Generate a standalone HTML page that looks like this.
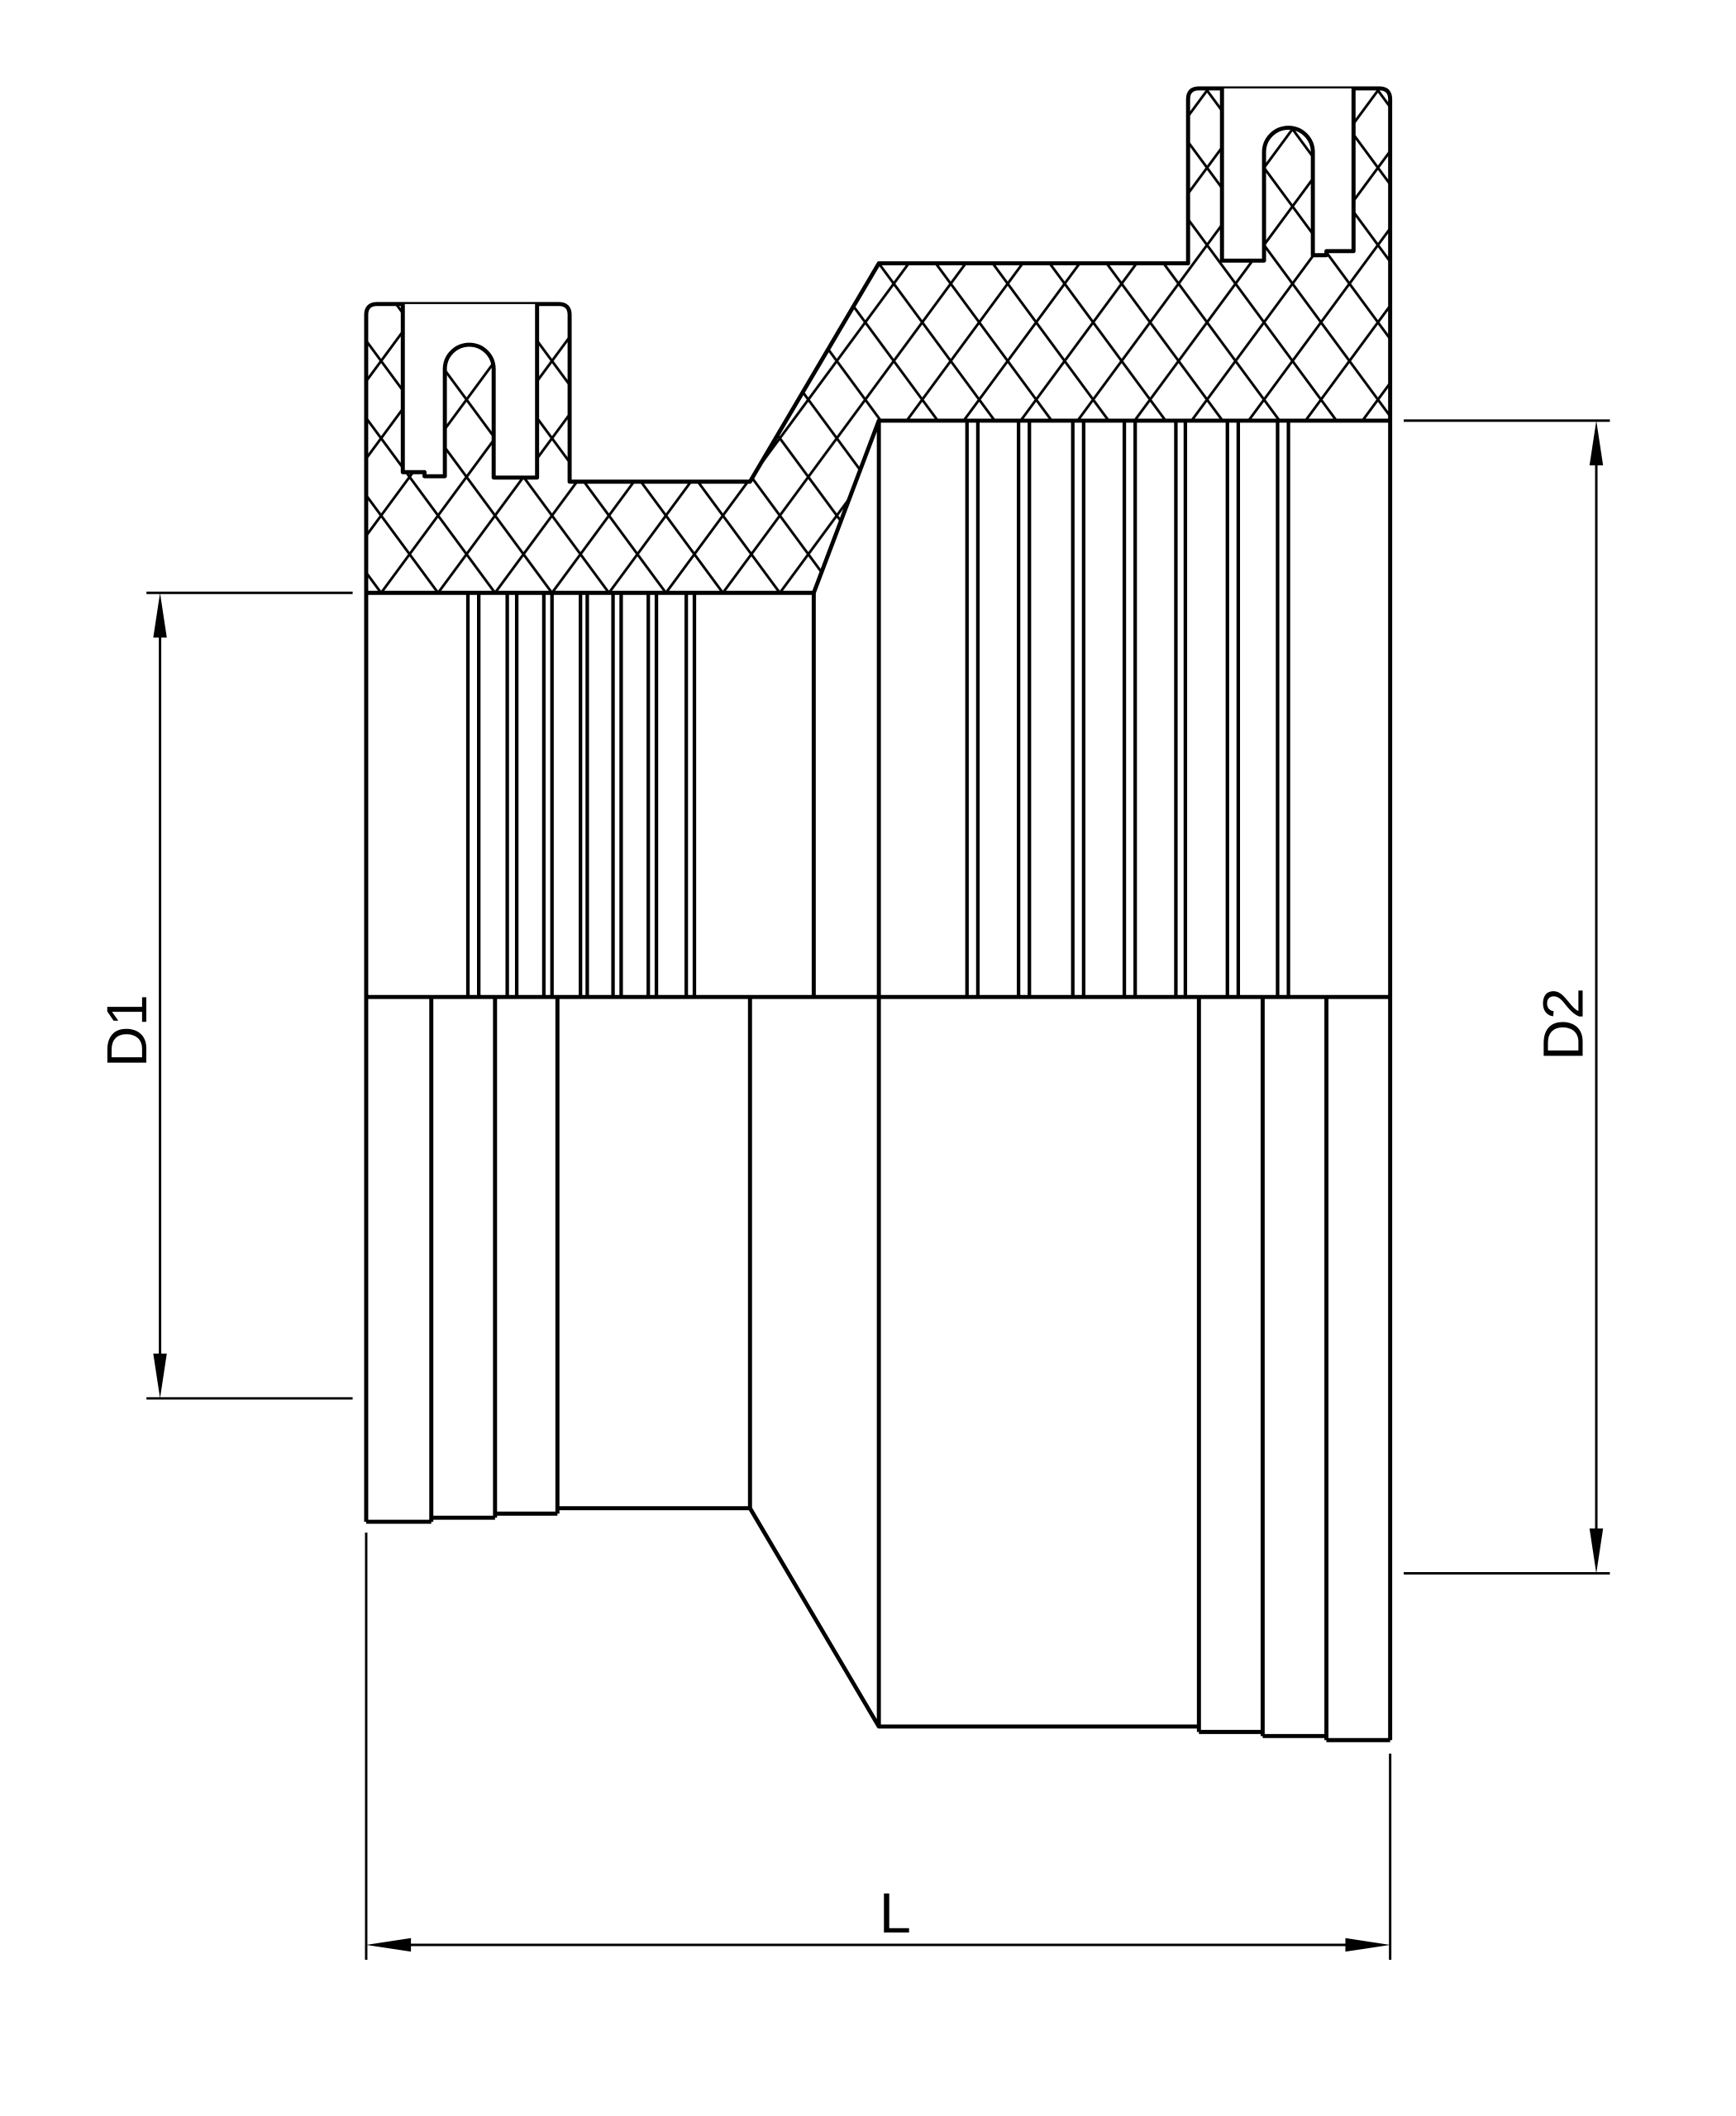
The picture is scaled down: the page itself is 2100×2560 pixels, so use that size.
<!DOCTYPE html>
<html><head><meta charset="utf-8"><style>html,body{margin:0;padding:0;background:#fff}svg{display:block}</style></head>
<body>
<svg width="2100" height="2560" viewBox="0 0 1280 1560" xmlns="http://www.w3.org/2000/svg">
<defs>
<pattern id="h" width="42" height="57" patternUnits="userSpaceOnUse" x="281" y="380">
<path d="M0,0 L42,57 M42,0 L0,57" stroke="#000" stroke-width="1.9" fill="none"/>
</pattern>
</defs>
<g fill="none" stroke="#000" stroke-width="3" stroke-linejoin="round">
<path fill="url(#h)" d="M270,437 L270,232 Q270,224 278,224 L412,224 Q420,224 420,232 L420,355 L553,355 L648,194 L876,194 L876,73 Q876,65 884,65 L1017,65 Q1025,65 1025,73 L1025,310 L648,310 L600,437 Z"/>
<path fill="#fff" d="M297,224 L297,348 L313,348 L313,351 L328,351 L328,272 A18,18 0 0 1 364,272 L364,352 L396,352 L396,224"/>
<path fill="#fff" d="M901,65 L901,192 L932,192 L932,112 A18,18 0 0 1 968,112 L968,188 L978,188 L978,185 L998,185 L998,65"/>
<path d="M270,437 L270,1122 M600,437 L600,735 M648,310 L648,1273 M1025,310 L1025,1283 M270,735 L1025,735"/>
<path stroke-width="2.6" d="M345,437V735M353,437V735M374,437V735M381,437V735M401,437V735M407,437V735M428,437V735M433,437V735M452,437V735M458,437V735M478,437V735M484,437V735M506,437V735M512,437V735"/>
<path stroke-width="2.6" d="M713,310V735M721,310V735M751,310V735M759,310V735M791,310V735M799,310V735M829,310V735M837,310V735M867,310V735M874,310V735M905,310V735M913,310V735M942,310V735M950,310V735"/>
<path d="M318,735V1122M365,735V1119M411,735V1116M553,735V1112M270,1122H318M318,1119H365M365,1116H411M411,1112H553L648,1273H884M884,735V1277M931,735V1280M978,735V1283M884,1277H931M931,1280H978M978,1283H1025"/>
</g>
<g stroke="#000" stroke-width="1.8" fill="none">
<path d="M108,437H260M108,1031H260M118,445V1023"/>
<path d="M1035,310H1187M1035,1160H1187M1177,318V1152"/>
<path d="M270,1130V1445M1025,1293V1445M278,1434H1017"/>
</g>
<g fill="#000">
<path d="M118,437 L113,470 L123,470 Z"/>
<path d="M118,1031 L113,998 L123,998 Z"/>
<path d="M1177,310 L1172,343 L1182,343 Z"/>
<path d="M1177,1160 L1172,1127 L1182,1127 Z"/>
<path d="M270,1434 L303,1429 L303,1439 Z"/>
<path d="M1025,1434 L992,1429 L992,1439 Z"/>
</g>
<g font-family="'Liberation Sans', sans-serif" font-size="42" fill="#000">
<text x="0" y="0" transform="translate(108,760) rotate(-90)" text-anchor="middle">D1</text>
<text x="0" y="0" transform="translate(1167,755) rotate(-90)" text-anchor="middle">D2</text>
<text x="660" y="1425" text-anchor="middle">L</text>
</g>
</svg>
</body></html>
